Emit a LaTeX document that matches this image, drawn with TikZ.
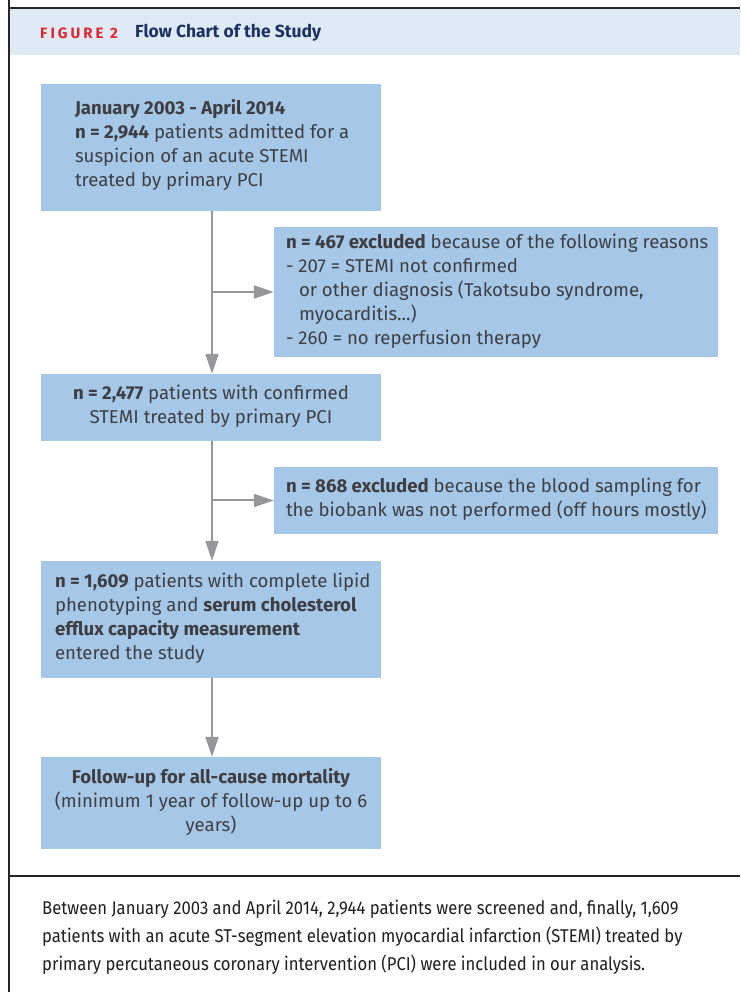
\documentclass[tikz,border=0pt]{standalone}
\usepackage{fontspec}
\setmainfont{Fira Sans}
\newfontfamily\captfont[FakeStretch=0.90]{Fira Sans}
\usetikzlibrary{arrows.meta,calc}
\definecolor{boxfill}{RGB}{166,200,232}
\definecolor{headfill}{RGB}{222,234,246}
\definecolor{arrgray}{RGB}{150,150,155}
\definecolor{txtgray}{RGB}{62,62,66}
\definecolor{figred}{RGB}{224,40,46}
\definecolor{navy}{RGB}{28,50,100}
\tikzset{
  flowbox/.style={fill=boxfill, draw=none, inner sep=0pt},
  mainbox/.style={flowbox, minimum width=340pt},
  sidebox/.style={flowbox, minimum width=444pt},
  boxtext/.style={inner sep=0pt, text=txtgray, font=\fontsize{18.6}{24}\selectfont, align=left},
  midtext/.style={boxtext, align=center},
  flowarrow/.style={draw=arrgray, line width=2pt, -{Triangle[length=20pt,width=13pt]}},
  frameline/.style={draw=black!85, line width=1.6pt}
}
\begin{document}
\begin{tikzpicture}[x=1pt,y=1pt]
\useasboundingbox (0,0) rectangle (740,992);
% header
\fill[headfill] (10,937) rectangle (740,983);
\draw[frameline] (9,992) -- (9,984) -- (740,984);
\draw[frameline] (9,984) -- (9,0);
\draw[frameline] (9,116) -- (740,116);
\node[anchor=west, inner sep=0pt, text=figred, font=\bfseries\fontsize{15}{17}\selectfont\addfontfeature{LetterSpace=20}] (figlabel) at (40,959) {FIGURE 2};
\node[anchor=west, inner sep=0pt, text=navy, font=\bfseries\fontsize{17.5}{19}\selectfont] (figtitle) at (135,959) {Flow Chart of the Study};
% boxes
\node[mainbox, minimum height=127pt] (b1) at (211,844.5) {};
\node[sidebox, minimum height=130pt] (b2) at (496,700) {};
\node[mainbox, minimum height=67pt] (b3) at (211,584.5) {};
\node[sidebox, minimum height=67pt] (b4) at (496,491.5) {};
\node[mainbox, minimum height=117pt] (b5) at (211,372.5) {};
\node[mainbox, minimum height=92pt] (b6) at (211,189) {};
% texts
\node[boxtext, anchor=west] (t1) at ([xshift=34pt,yshift=3pt]b1.west) {\textbf{January 2003 - April 2014}\\\textbf{n = 2,944} patients admitted for a\\suspicion of an acute STEMI\\treated by primary PCI};
\node[boxtext, anchor=west] (t2) at ([xshift=12pt,yshift=1pt]b2.west) {\textbf{n = 467 excluded} because of the following reasons\\- 207 = STEMI not confirmed\\\hspace*{13pt}or other diagnosis (Takotsubo syndrome,\\\hspace*{13pt}myocarditis...)\\- 260 = no reperfusion therapy};
\node[midtext] (t3) at ([yshift=1pt]b3.center) {\textbf{n = 2,477} patients with confirmed\\STEMI treated by primary PCI};
\node[boxtext, anchor=west] (t4) at ([xshift=12pt,yshift=1pt]b4.west) {\textbf{n = 868 excluded} because the blood sampling for\\the biobank was not performed (off hours mostly)};
\node[boxtext, anchor=west] (t5) at ([xshift=14pt,yshift=1pt]b5.west) {\textbf{n = 1,609} patients with complete lipid\\phenotyping and \textbf{serum cholesterol}\\\textbf{efflux capacity measurement}\\entered the study};
\node[midtext] (t6) at ([yshift=1pt]b6.center) {\textbf{Follow-up for all-cause mortality}\\(minimum 1 year of follow-up up to 6\\years)};
% connectors
\coordinate (v1) at ([xshift=1pt]b1.south);
\coordinate (v3) at ([xshift=1pt]b3.south);
\coordinate (v5) at ([xshift=1pt]b5.south);
\draw[flowarrow] (v1) -- (v1 |- b3.north);
\draw[flowarrow] (v1 |- b2.west) -- (b2.west);
\draw[flowarrow] (v3) -- (v3 |- b5.north);
\draw[flowarrow] (v3 |- b4.west) -- (b4.west);
\draw[flowarrow] (v5) -- (v5 |- b6.north);
% caption
\node[anchor=north west, inner sep=0pt, align=left, text=black!88, font=\captfont\fontsize{18.5}{28}\selectfont] (caption) at (42,92) {Between January 2003 and April 2014, 2,944 patients were screened and, finally, 1,609\\patients with an acute ST-segment elevation myocardial infarction (STEMI) treated by\\primary percutaneous coronary intervention (PCI) were included in our analysis.};
\end{tikzpicture}
\end{document}
